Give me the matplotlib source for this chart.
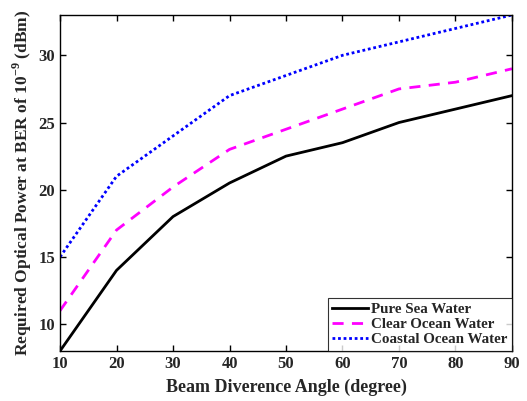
import matplotlib
matplotlib.use("Agg")
import matplotlib.pyplot as plt

# data
angle = [10, 20, 30, 40, 50, 60, 70, 80, 90]
pure_sea = [8, 14, 18, 20.5, 22.5, 23.5, 25, 26, 27]
clear_ocean = [11, 17, 20.2, 23, 24.5, 26, 27.5, 28, 29]
coastal_ocean = [15, 21, 24, 27, 28.5, 30, 31, 32, 33]

plt.rcParams['font.family'] = 'Liberation Serif'
plt.rcParams['font.weight'] = 'bold'
plt.rcParams['mathtext.fontset'] = 'custom'
plt.rcParams['mathtext.rm'] = 'Liberation Serif:bold'
plt.rcParams['mathtext.bf'] = 'Liberation Serif:bold'
plt.rcParams['text.color'] = '#262626'
plt.rcParams['axes.labelcolor'] = '#262626'
plt.rcParams['xtick.labelcolor'] = '#262626'
plt.rcParams['ytick.labelcolor'] = '#262626'

fig = plt.figure(figsize=(5.27, 4.01), dpi=100)
ax = fig.add_axes([0.1139, 0.1247, 0.8576, 0.8379])

ax.plot(angle, pure_sea, color='black', lw=2, ls='-', label='Pure Sea Water')
ax.plot(angle, clear_ocean, color='magenta', lw=2, ls=(0, (4, 3)), label='Clear Ocean Water')
ax.plot(angle, coastal_ocean, color='blue', lw=2, ls=(0, (1, 1)), label='Coastal Ocean Water')

ax.set_xlim(10, 90)
ax.set_ylim(8, 33)
ax.set_xticks(range(10, 91, 10))
ax.set_yticks([10, 15, 20, 25, 30])
ax.tick_params(direction='in', top=True, right=True, labelsize=12, width=1, length=4)
for lab in ax.get_xticklabels() + ax.get_yticklabels():
    lab.set_fontweight('bold')
for s in ax.spines.values():
    s.set_linewidth(1)

ax.set_xlabel('Beam Diverence Angle (degree)', fontsize=13, fontweight='bold', labelpad=5)
ax.set_ylabel('Required Optical Power at BER of 10$^{\\mathrm{-9}}$ (dBm)', fontsize=12.5,
              fontweight='bold', labelpad=3)

leg = ax.legend(loc='lower right', fontsize=10.8, frameon=True, fancybox=False,
                edgecolor='black', borderaxespad=0, handlelength=2.4, handletextpad=0.2,
                labelspacing=0.1, borderpad=0.3)
leg.get_frame().set_linewidth(0.8)
for t in leg.get_texts():
    t.set_fontweight('bold')

fig.savefig('out.png', dpi=100)
